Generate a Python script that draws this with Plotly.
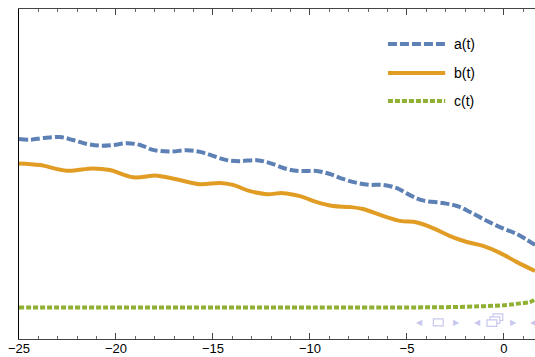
import plotly.graph_objects as go

# ---- data ----
t_a = [-25.0, -24.43, -23.76, -22.89, -22.22, -21.49, -20.82, -20.15, -19.43, -18.76,
       -18.09, -17.22, -16.34, -15.67, -15.00, -14.28, -13.61, -12.73, -12.06, -11.19,
       -10.52, -9.64, -8.97, -8.30, -7.58, -6.91, -6.24, -5.52, -4.85, -4.18,
       -3.14, -2.42, -1.75, -1.08, -0.21, 0.67, 1.60]
a_vals = [6.06, 6.04, 6.09, 6.12, 6.03, 5.91, 5.86, 5.88, 5.93, 5.88,
          5.73, 5.68, 5.72, 5.67, 5.55, 5.42, 5.39, 5.42, 5.33, 5.15,
          5.09, 5.09, 5.00, 4.85, 4.73, 4.67, 4.67, 4.57, 4.36, 4.20,
          4.12, 4.03, 3.85, 3.64, 3.39, 3.18, 2.85]

t_b = [-25.0, -23.92, -22.53, -21.19, -20.31, -19.12, -17.89, -16.96, -15.67, -14.64,
       -13.97, -13.09, -12.22, -11.39, -10.52, -9.64, -8.81, -7.94, -7.27, -6.24,
       -5.36, -4.48, -3.66, -2.78, -1.91, -1.08, -0.21, 0.67, 1.60]
b_vals = [5.32, 5.27, 5.10, 5.17, 5.12, 4.90, 4.95, 4.85, 4.69, 4.73,
          4.67, 4.48, 4.39, 4.42, 4.33, 4.15, 4.03, 4.00, 3.94, 3.73,
          3.58, 3.53, 3.36, 3.12, 2.94, 2.82, 2.61, 2.33, 2.06]

t_c = [-25.0, -20.0, -15.0, -10.0, -5.0, -3.0, -1.24, 0.15, 0.82, 1.34, 1.60]
c_vals = [0.955, 0.955, 0.955, 0.955, 0.957, 0.965, 0.99, 1.03, 1.08, 1.12, 1.20]

x_ticks = [-25, -20, -15, -10, -5, 0]
series_names = ["a(t)", "b(t)", "c(t)"]

BLUE = "#5E81B5"
ORANGE = "#E19C24"
GREEN = "#8FB032"
CTRL = "#C8C8EE"

fig = go.Figure()
fig.add_trace(go.Scatter(x=t_a, y=a_vals, mode="lines", name=series_names[0],
                         line=dict(color=BLUE, width=4, dash="9px,3px", shape="spline")))
fig.add_trace(go.Scatter(x=t_b, y=b_vals, mode="lines", name=series_names[1],
                         line=dict(color=ORANGE, width=4, shape="spline")))
fig.add_trace(go.Scatter(x=t_c, y=c_vals, mode="lines", name=series_names[2],
                         line=dict(color=GREEN, width=4, dash="5px,2px", shape="spline")))

# manual legend (paper coordinates)
shapes = []
annotations = []
leg_y = [0.894, 0.806, 0.721]
leg_style = [dict(color=BLUE, width=4, dash="9px,3px"),
             dict(color=ORANGE, width=4),
             dict(color=GREEN, width=4, dash="5px,2px")]
for name, yy, st in zip(series_names, leg_y, leg_style):
    shapes.append(dict(type="line", xref="paper", yref="paper", x0=0.715, x1=0.826,
                       y0=yy, y1=yy, line=st))
    annotations.append(dict(xref="paper", yref="paper", x=0.840, y=yy, text=name,
                            showarrow=False, xanchor="left", yanchor="middle",
                            font=dict(size=14, color="#000000")))

# animation controls (decoration)
for xx, ch in [(0.777, "◀"), (0.847, "▶"), (0.889, "◀"), (0.958, "▶"), (0.997, "◀")]:
    annotations.append(dict(xref="paper", yref="paper", x=xx, y=0.051, text=ch,
                            showarrow=False, xanchor="center", yanchor="middle",
                            font=dict(size=8, color=CTRL)))
shapes.append(dict(type="rect", xref="paper", yref="paper", x0=0.803, x1=0.822,
                   y0=0.040, y1=0.061, line=dict(color=CTRL, width=1.2), fillcolor="white"))
for k in range(3):
    dx = 0.0058 * (2 - k)
    dy = 0.009 * (2 - k)
    shapes.append(dict(type="rect", xref="paper", yref="paper",
                       x0=0.907 + dx, x1=0.926 + dx, y0=0.038 + dy, y1=0.058 + dy,
                       line=dict(color=CTRL, width=1.2), fillcolor="white"))

fig.update_layout(
    width=535, height=357,
    margin=dict(l=19, r=0, t=9, b=18),
    paper_bgcolor="white", plot_bgcolor="white",
    showlegend=False,
    font=dict(family="Liberation Sans, Arial, sans-serif", size=13, color="#000000"),
    shapes=shapes, annotations=annotations,
)
fig.update_xaxes(range=[-25, 1.6], tickmode="array", tickvals=x_ticks,
                 ticks="inside", ticklen=6, tickwidth=1, tickcolor="#444444",
                 showline=True, linecolor="#444444", linewidth=1, mirror="ticks",
                 showgrid=False, zeroline=False, automargin=False,
                 ticklabelstandoff=-3,
                 tickfont=dict(size=13, color="#000000"),
                 minor=dict(dtick=1, tick0=-25, ticks="inside", ticklen=3,
                            tickcolor="#666666", tickwidth=1, showgrid=False))
fig.update_yaxes(range=[0, 10], showticklabels=False, ticks="",
                 showline=True, linecolor="#000000", linewidth=1,
                 showgrid=False, zeroline=False, automargin=False)

fig.write_html("out.html", config={"displayModeBar": False},
               post_script="document.body.style.margin='0';")
